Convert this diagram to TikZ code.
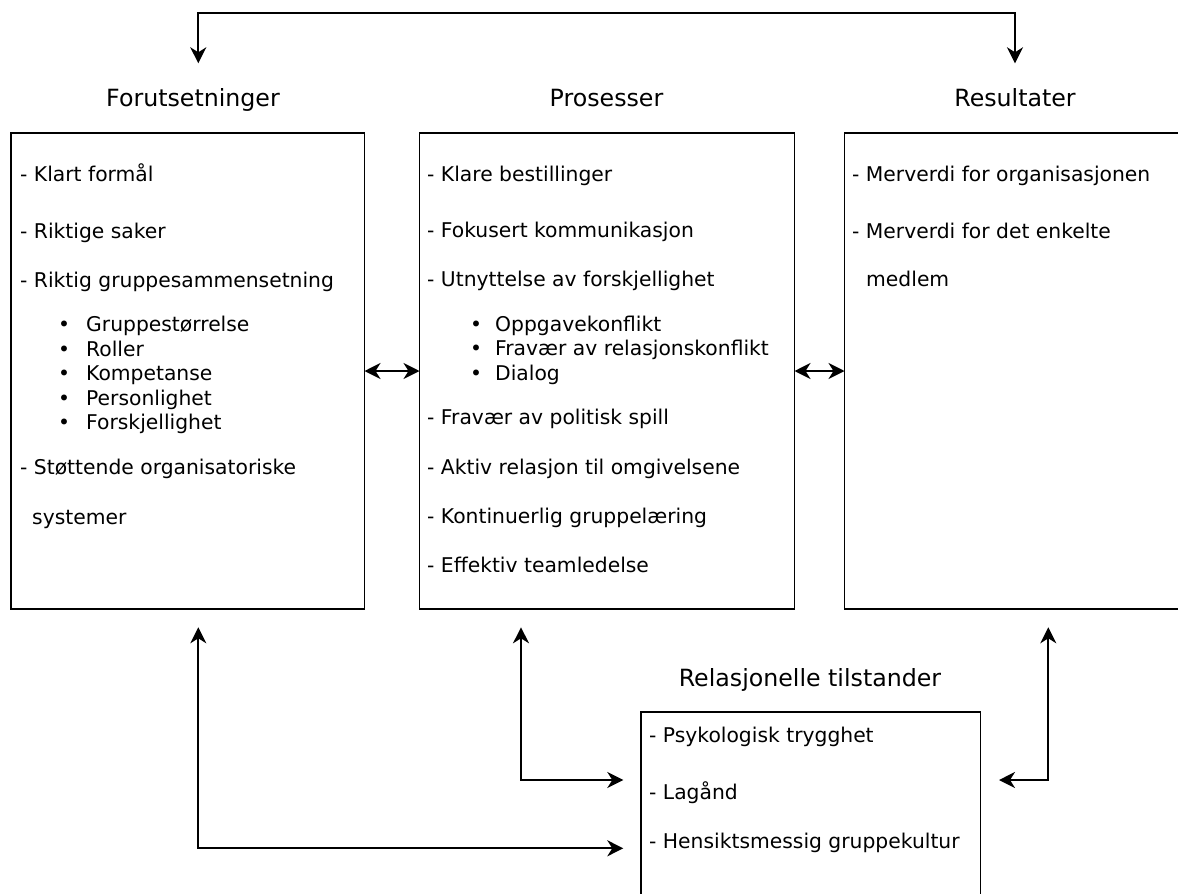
\documentclass[tikz,border=0pt]{standalone}
\usepackage{fontspec}
\setmainfont{DejaVu Sans}
\usetikzlibrary{arrows.meta}
\begin{document}
\begin{tikzpicture}[x=1pt,y=-1pt,
  box/.style={draw, line width=1.3pt, rectangle, inner sep=0pt, outer sep=0pt},
  txt/.style={anchor=base west, inner sep=0pt, font=\fontsize{20.3}{24.4}\selectfont},
  ttl/.style={anchor=base, inner sep=0pt, font=\fontsize{23.7}{28}\selectfont},
  conn/.style={line width=2pt, {Stealth[length=16pt,width=16pt,inset=5pt]}-{Stealth[length=16pt,width=16pt,inset=5pt]}}
]
\useasboundingbox (0,0) rectangle (1178,894);
\clip (0,0) rectangle (1178,894);

% boxes
\node[box, minimum width=353.5pt, minimum height=476pt] (pre) at (187.75,371) {};
\node[box, minimum width=375pt, minimum height=476pt] (pro) at (607,371) {};
\node[box, minimum width=375.5pt, minimum height=476pt] (res) at (1032.25,371) {};
\node[box, minimum width=339.5pt, minimum height=228pt] (rel) at (810.75,826) {};

% titles
\node[ttl] (tF) at (193,106.7) {Forutsetninger};
\node[ttl] (tP) at (606.5,106.7) {Prosesser};
\node[ttl] (tR) at (1015,106.7) {Resultater};
\node[ttl] (tRel) at (810,686.7) {Relasjonelle tilstander};

% left box text
\node[txt] (f1) at (20,181.7) {- Klart formål};
\node[txt] (f2) at (20,238) {- Riktige saker};
\node[txt] (f3) at (20,287.3) {- Riktig gruppesammensetning};
\node[txt] (f3a) at (58,331.7) {\makebox[28pt][l]{•}Gruppestørrelse};
\node[txt] (f3b) at (58,356.5) {\makebox[28pt][l]{•}Roller};
\node[txt] (f3c) at (58,380.8) {\makebox[28pt][l]{•}Kompetanse};
\node[txt] (f3d) at (58,405.2) {\makebox[28pt][l]{•}Personlighet};
\node[txt] (f3e) at (58,429.6) {\makebox[28pt][l]{•}Forskjellighet};
\node[txt] (f4) at (20,474.3) {- Støttende organisatoriske};
\node[txt] (f4b) at (32,524.3) {systemer};

% middle box text
\node[txt] (p1) at (427,181.7) {- Klare bestillinger};
\node[txt] (p2) at (427,237.3) {- Fokusert kommunikasjon};
\node[txt] (p3) at (427,286.7) {- Utnyttelse av forskjellighet};
\node[txt] (p3a) at (470,331) {\makebox[25pt][l]{•}Oppgavekonflikt};
\node[txt] (p3b) at (470,355.5) {\makebox[25pt][l]{•}Fravær av relasjonskonflikt};
\node[txt] (p3c) at (470,380) {\makebox[25pt][l]{•}Dialog};
\node[txt] (p4) at (427,424.3) {- Fravær av politisk spill};
\node[txt] (p5) at (427,474.3) {- Aktiv relasjon til omgivelsene};
\node[txt] (p6) at (427,523.3) {- Kontinuerlig gruppelæring};
\node[txt] (p7) at (427,572.7) {- Effektiv teamledelse};

% right box text
\node[txt] (r1) at (852,181.7) {- Merverdi for organisasjonen};
\node[txt] (r2) at (852,238) {- Merverdi for det enkelte};
\node[txt] (r2b) at (866,286.7) {medlem};

% bottom box text
\node[txt] (s1) at (649,742.7) {- Psykologisk trygghet};
\node[txt] (s2) at (649,799.3) {- Lagånd};
\node[txt] (s3) at (649,848.3) {- Hensiktsmessig gruppekultur};

% connectors
\coordinate (aF) at (198.3,63.3);
\coordinate (aR) at (1015,63.3);
\draw[conn] (aF) -- ++(0,-50) -| (aR);

\draw[conn] (pre.east) -- (pro.west);
\draw[conn] (pro.east) -- (res.west);

\coordinate (bF) at (198.3,627.3);
\coordinate (bFe) at (623.3,848.3);
\draw[conn] (bF) |- (bFe);

\coordinate (bP) at (521,627.3);
\coordinate (bPe) at (623.3,780);
\draw[conn] (bP) |- (bPe);

\coordinate (bR) at (1048.3,627.3);
\coordinate (bRe) at (999,780);
\draw[conn] (bR) |- (bRe);
\end{tikzpicture}
\end{document}
